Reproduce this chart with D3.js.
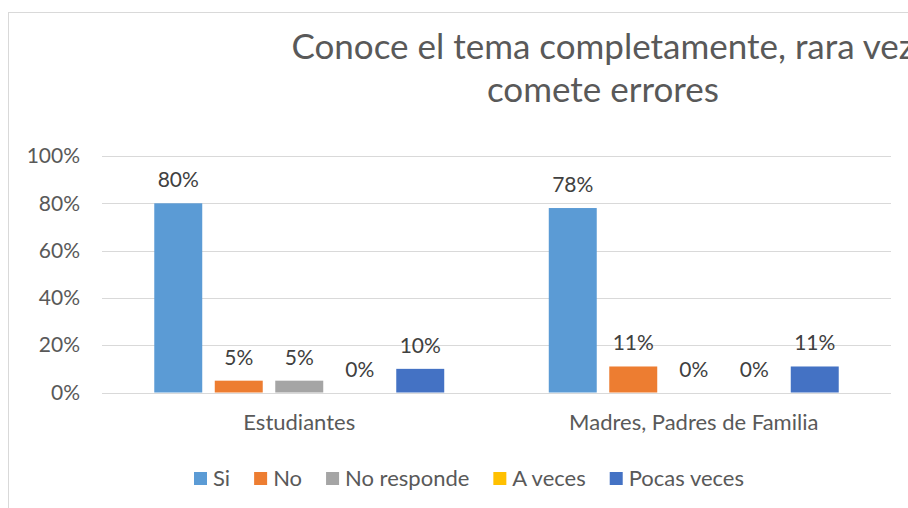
<!DOCTYPE html>
<html>
<head>
<meta charset="utf-8">
<script src="https://cdn.jsdelivr.net/npm/d3@7"></script>
<style>
  body { margin: 0; background: #fff; }
  text { font-family: Lato, "Noto Sans", sans-serif; }
</style>
</head>
<body>
<div id="chart"></div>
<script>
var categories = ["Estudiantes", "Madres, Padres de Familia"];
var seriesNames = ["Si", "No", "No responde", "A veces", "Pocas veces"];
var seriesColors = ["#5B9BD5", "#ED7D31", "#A5A5A5", "#FFC000", "#4472C4"];
// values per series, one per category
var si = [0.80, 0.78];
var no = [0.05, 0.11];
var noResponde = [0.05, 0];
var aVeces = [0, 0];
var pocasVeces = [0.10, 0.11];
var yTicks = [0, 0.2, 0.4, 0.6, 0.8, 1.0];
var titleLines = ["Conoce el tema completamente, rara vez", "comete errores"];

var seriesValues = [si, no, noResponde, aVeces, pocasVeces];
var data = categories.map(function (c, ci) {
    return seriesNames.map(function (s, k) {
        return { cat: c, series: s, value: seriesValues[k][ci], color: seriesColors[k] };
    });
});

var W = 908, H = 508;
var svg = d3.select("#chart").append("svg")
    .attr("width", W)
    .attr("height", H);

// chart border (runs past the window on right/bottom)
svg.append("rect")
    .attr("x", 8.5).attr("y", 12.5)
    .attr("width", 1200).attr("height", 600)
    .attr("fill", "#fff")
    .attr("stroke", "#D9D9D9");

var plotLeft = 102, plotRight = 891, plotTop = 156, plotBottom = 392.5;

var x0 = d3.scaleBand().domain(categories).range([plotLeft, plotRight]).padding(0);
var x1 = d3.scaleBand().domain(seriesNames).range([0, x0.bandwidth()])
    .paddingInner(0.207).paddingOuter(0.864);
var y = d3.scaleLinear().domain([0, 1]).range([plotBottom, plotTop]);

// gridlines
svg.append("g")
    .selectAll("line")
    .data(yTicks)
    .enter().append("line")
    .attr("x1", plotLeft).attr("x2", plotRight)
    .attr("y1", function (d) { return Math.round(y(d)) + 0.5; })
    .attr("y2", function (d) { return Math.round(y(d)) + 0.5; })
    .attr("stroke", "#D9D9D9")
    .attr("stroke-width", 1);

// y axis labels
var yAxis = d3.axisLeft(y).tickValues(yTicks).tickSize(0).tickPadding(22)
    .tickFormat(d3.format(".0%"));
var yg = svg.append("g")
    .attr("transform", "translate(" + plotLeft + ",0)")
    .call(yAxis);
yg.select(".domain").remove();
yg.selectAll("text")
    .attr("fill", "#595959")
    .style("font-size", "21px")
    .style("font-family", "Lato, sans-serif");

// bars
var groups = svg.append("g")
    .selectAll("g")
    .data(data)
    .enter().append("g")
    .attr("transform", function (d, i) { return "translate(" + x0(categories[i]) + ",0)"; });

groups.selectAll("rect")
    .data(function (d) { return d; })
    .enter().append("rect")
    .attr("x", function (d) { return x1(d.series); })
    .attr("width", x1.bandwidth())
    .attr("y", function (d) { return y(d.value); })
    .attr("height", function (d) { return y(0) - y(d.value); })
    .attr("fill", function (d) { return d.color; });

groups.selectAll("text")
    .data(function (d) { return d; })
    .enter().append("text")
    .attr("x", function (d) { return x1(d.series) + x1.bandwidth() / 2; })
    .attr("y", function (d) { return y(d.value) - 16; })
    .attr("text-anchor", "middle")
    .attr("fill", "#404040")
    .style("font-size", "21px")
    .text(function (d) { return d3.format(".0%")(d.value); });

// x axis labels
var xAxis = d3.axisBottom(x0).tickSize(0).tickPadding(22);
var xg = svg.append("g")
    .attr("transform", "translate(0," + plotBottom + ")")
    .call(xAxis);
xg.select(".domain").remove();
xg.selectAll("text")
    .attr("fill", "#595959")
    .style("font-size", "22px")
    .style("font-family", "Lato, sans-serif");

// title (first line runs past the right edge, as in the original)
svg.append("g")
    .selectAll("text")
    .data(titleLines)
    .enter().append("text")
    .attr("x", 603)
    .attr("y", function (d, i) { return 59 + i * 43; })
    .attr("text-anchor", "middle")
    .attr("fill", "#595959")
    .style("font-size", "35px")
    .text(function (d) { return d; });

// legend
var legend = svg.append("g").attr("transform", "translate(194,479)");
var lx = 0;
seriesNames.forEach(function (s, i) {
    var item = legend.append("g").attr("transform", "translate(" + lx + ",0)");
    item.append("rect")
        .attr("x", 0).attr("y", -7)
        .attr("width", 13).attr("height", 13)
        .attr("fill", seriesColors[i]);
    var t = item.append("text")
        .attr("x", 19).attr("y", 7)
        .attr("fill", "#595959")
        .style("font-size", "22px")
        .text(s);
    lx += 19 + t.node().getComputedTextLength() + 24;
});
</script>
</body>
</html>
